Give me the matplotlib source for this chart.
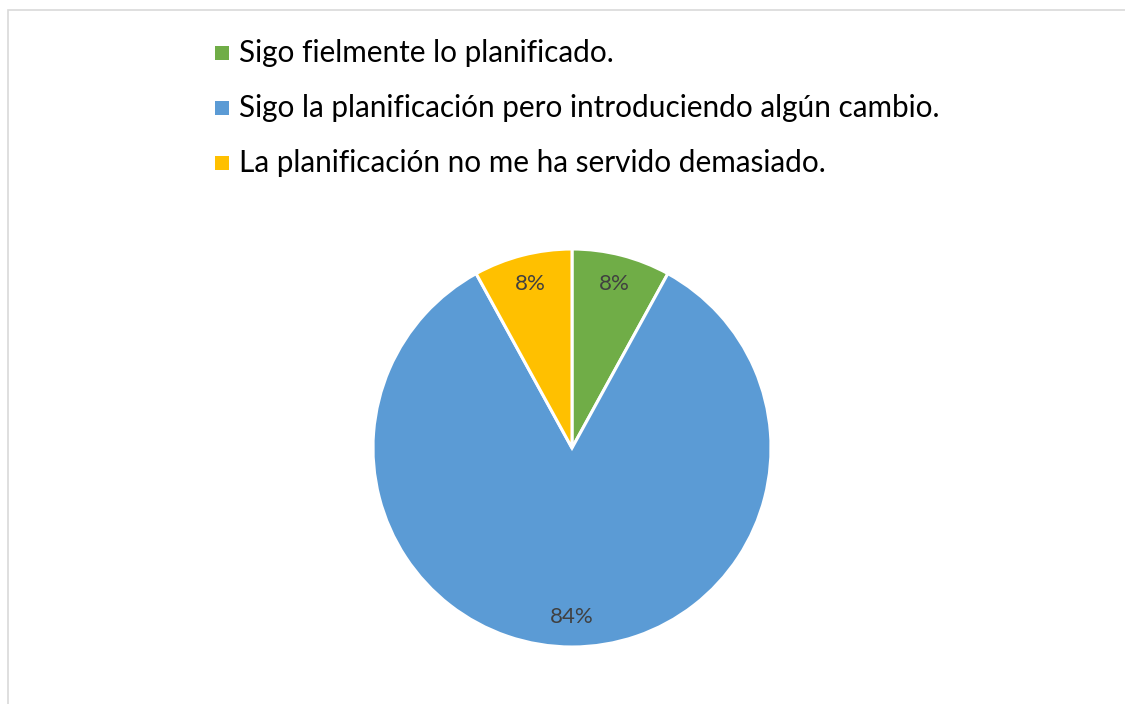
import matplotlib
matplotlib.use("Agg")
from matplotlib import pyplot as plt
from matplotlib.patches import Rectangle

labels = ["Sigo fielmente lo planificado.",
          "Sigo la planificación pero introduciendo algún cambio.",
          "La planificación no me ha servido demasiado."]
values = [8, 84, 8]
colors = ["#70AD47", "#5B9BD5", "#FFC000"]

W, H = 1125, 704
fig = plt.figure(figsize=(W / 100, H / 100), dpi=100)

# light gray chart frame
fig.patches.append(Rectangle((8 / W, -0.01), 1.2, (H - 10) / H + 0.01, transform=fig.transFigure,
                             fill=False, edgecolor="#d9d9d9", linewidth=1.2))

cx, cy, r = 572, 448, 199
ax = fig.add_axes([(cx - r) / W, (H - cy - r) / H, 2 * r / W, 2 * r / H])
ax.pie(values, colors=colors, startangle=90, counterclock=False,
       autopct="%d%%", pctdistance=0.85, radius=1,
       wedgeprops=dict(edgecolor="white", linewidth=2.2),
       textprops=dict(color="#404040", fontsize=16, family="Lato"))
ax.set_xlim(-1, 1)
ax.set_ylim(-1, 1)
ax.set_aspect("equal")

# legend drawn by hand
ys = [53, 108, 163]
fs = 21
renderer = fig.canvas.get_renderer()
t = fig.text(0, 0, labels[1], fontsize=fs, family="Lato")
w = t.get_window_extent(renderer).width
t.remove()
fs = fs * 702 / w
for lab, col, y in zip(labels, colors, ys):
    fig.patches.append(Rectangle((215 / W, (H - y - 7) / H), 14 / W, 14 / H,
                                 transform=fig.transFigure, facecolor=col, edgecolor="none"))
    fig.text(239 / W, (H - y) / H, lab, fontsize=fs, family="Lato", color="#000000",
             va="center", ha="left")

fig.savefig("out.png", dpi=100)
